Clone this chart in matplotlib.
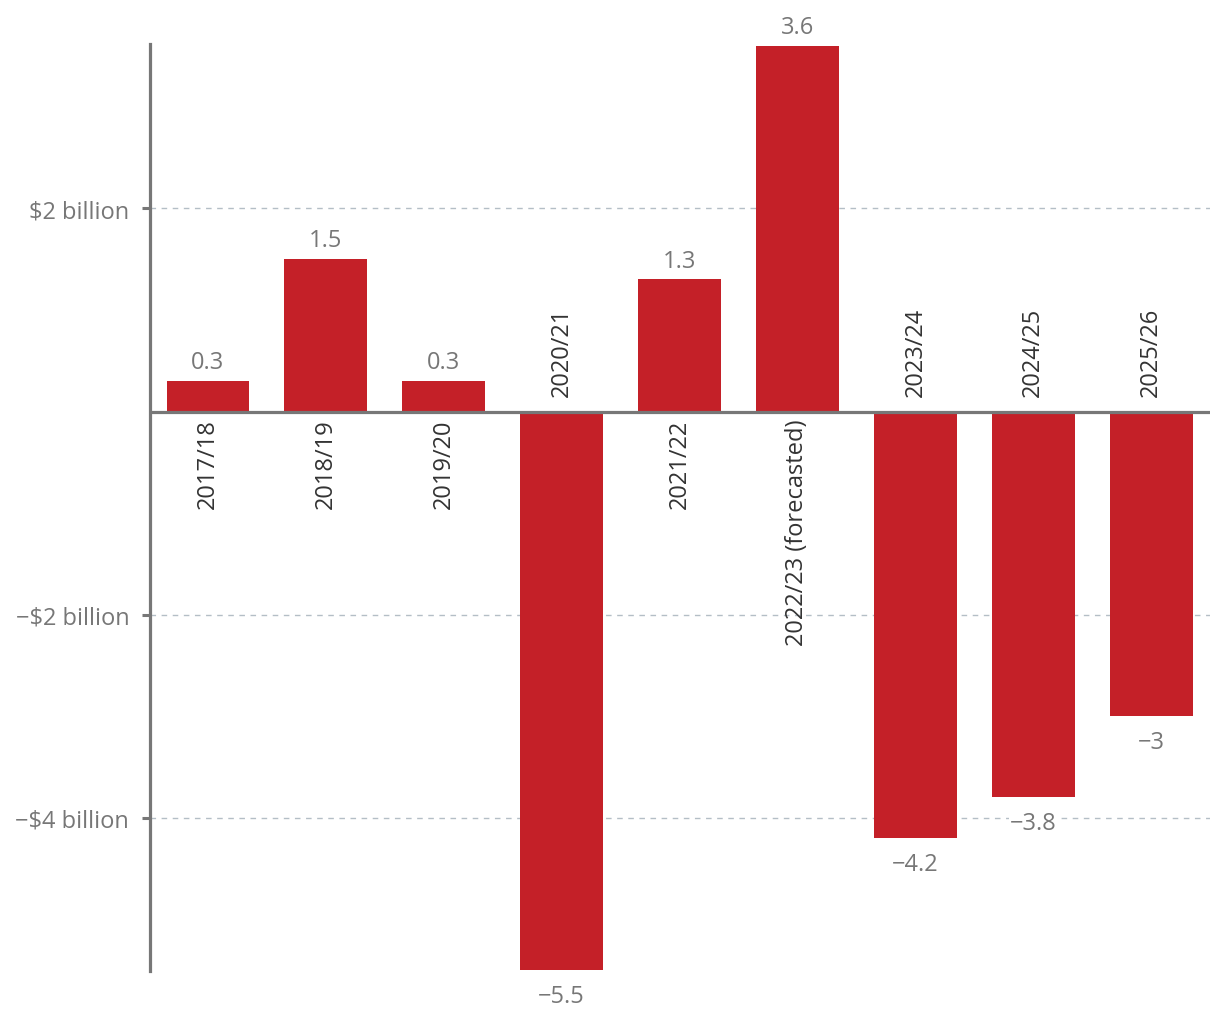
import matplotlib.pyplot as plt

# Données
periods = ["2017/18", "2018/19", "2019/20", "2020/21", "2021/22",
           "2022/23 (forecasted)", "2023/24", "2024/25", "2025/26"]
values = [0.3, 1.5, 0.3, -5.5, 1.3, 3.6, -4.2, -3.8, -3]
value_labels = ["0.3", "1.5", "0.3", "\u22125.5", "1.3", "3.6", "\u22124.2", "\u22123.8", "\u22123"]
ytick_vals = [2, -2, -4]
ytick_labels = ["$2 billion", "\u2212$2 billion", "\u2212$4 billion"]

plt.rcParams["font.family"] = ["Open Sans", "DejaVu Sans"]
FS = 17

fig = plt.figure(figsize=(12.2, 10.2), dpi=100)
ax = fig.add_axes([0.123, 0.047, 0.869, 0.909])

x = list(range(len(periods)))
ax.bar(x, values, width=0.7, color="#c42028", zorder=2)

# Ligne zéro
ax.axhline(0, color="#777777", lw=2.3, zorder=3)

ax.set_xlim(-0.49, 8.5)
ax.set_ylim(-5.51, 3.62)

ax.set_yticks(ytick_vals)
ax.set_yticklabels(ytick_labels)
ax.tick_params(axis="y", length=6, width=2.2, color="#777777", pad=9,
               labelsize=FS, labelcolor="#777777")
ax.set_xticks([])
ax.grid(axis="y", color="#b4bec6", linestyle=(0, (4, 4)), lw=1, zorder=1)

for s in ["top", "right", "bottom"]:
    ax.spines[s].set_visible(False)
ax.spines["left"].set_color("#777777")
ax.spines["left"].set_linewidth(2.3)
ax.spines["left"].set_zorder(4)

for xi, v, lab, per in zip(x, values, value_labels, periods):
    if v >= 0:
        ax.annotate(lab, (xi, v), xytext=(0, 5), textcoords="offset points",
                    ha="center", va="bottom", fontsize=FS, color="#777777")
        ax.annotate(per, (xi, 0), xytext=(0, -5), textcoords="offset points",
                    ha="center", va="top", rotation=90, fontsize=FS, color="#333333")
    else:
        ax.annotate(lab, (xi, v), xytext=(0, -10), textcoords="offset points",
                    ha="center", va="top", fontsize=FS, color="#777777", zorder=5,
                    bbox=dict(facecolor="white", edgecolor="none", pad=1))
        ax.annotate(per, (xi, 0), xytext=(0, 11), textcoords="offset points",
                    ha="center", va="bottom", rotation=90, fontsize=FS, color="#333333")

fig.savefig("out.png", dpi=100)
